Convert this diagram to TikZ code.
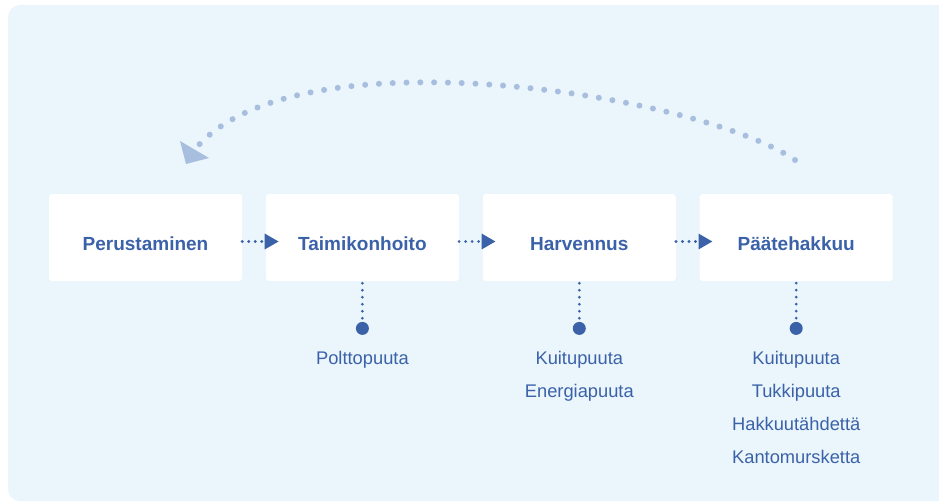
\documentclass[tikz,border=0pt]{standalone}
\usepackage{fontspec}
\setmainfont{Liberation Sans}
\usetikzlibrary{positioning,arrows.meta}
\definecolor{panel}{HTML}{EAF5FC}
\definecolor{ink}{HTML}{3B62A8}
\definecolor{loopblue}{HTML}{A8BEDE}

\begin{document}
\begin{tikzpicture}[
    x=1pt, y=-1pt,
    stage/.style={fill=white, rounded corners=3pt, minimum width=193pt, minimum height=87pt,
                  inner sep=0pt, text=ink, font=\fontsize{19}{22}\selectfont\bfseries,
                  text height=25pt, text depth=0pt},
    outdot/.style={circle, fill=ink, minimum size=13pt, inner sep=0pt},
    yield/.style={text=ink, font=\fontsize{18.3}{22}\selectfont, inner sep=0pt,
                  text height=13pt, text depth=4pt},
    flow/.style={ink, line width=3.2pt, line cap=round, dash pattern=on 0pt off 6.5pt,
                 -{Triangle[length=14pt,width=15pt]}},
    stem/.style={ink, line width=3pt, line cap=round, dash pattern=on 0pt off 7pt},
    returnloop/.style={loopblue, line width=6pt, line cap=round, dash pattern=on 0pt off 13.8pt}
  ]

  \useasboundingbox (0,0) rectangle (939,503);

  % ========= panel =========
  \fill[panel, rounded corners=12pt] (8,5) rectangle (960,501);

  % ========= stages =========
  \node[stage] (perus) at (145.5,237.5) {Perustaminen};
  \node[stage, right=23.5pt of perus] (taimi) {Taimikonhoito};
  \node[stage, right=23.5pt of taimi] (harv)  {Harvennus};
  \node[stage, right=23.5pt of harv]  (paate) {Päätehakkuu};

  \draw[flow] ([yshift=-4pt]perus.east) -- ([xshift=13pt,yshift=-4pt]taimi.west);
  \draw[flow] ([yshift=-4pt]taimi.east) -- ([xshift=13pt,yshift=-4pt]harv.west);
  \draw[flow] ([yshift=-4pt]harv.east)  -- ([xshift=13pt,yshift=-4pt]paate.west);

  % ========= outputs =========
  \node[outdot, below=40.5pt of taimi] (taimidot) {};
  \node[outdot, below=40.5pt of harv]  (harvdot)  {};
  \node[outdot, below=40.5pt of paate] (paatedot) {};

  \draw[stem] ([yshift=-2pt]taimi.south) -- (taimidot.north);
  \draw[stem] ([yshift=-2pt]harv.south)  -- (harvdot.north);
  \draw[stem] ([yshift=-2pt]paate.south) -- (paatedot.north);

  \node[yield, below=16.5pt of taimidot] (taimiout1) {Polttopuuta};

  \node[yield, below=16.5pt of harvdot]  (harvout1) {Kuitupuuta};
  \node[yield, below=15.5pt of harvout1] (harvout2) {Energiapuuta};

  \node[yield, below=16.5pt of paatedot]  (paateout1) {Kuitupuuta};
  \node[yield, below=15.5pt of paateout1] (paateout2) {Tukkipuuta};
  \node[yield, below=15.5pt of paateout2] (paateout3) {Hakkuutähdettä};
  \node[yield, below=15.5pt of paateout3] (paateout4) {Kantomursketta};

  % ========= return loop =========
  \coordinate (loopfrom) at (795,160);
  \coordinate (loopto)   at (197,147);
  \draw[returnloop] (loopfrom) .. controls (700,95) and (300,30) .. (loopto);
  \fill[loopblue] (180,141) -- (186,164) -- (209,158) -- cycle;

\end{tikzpicture}
\end{document}
